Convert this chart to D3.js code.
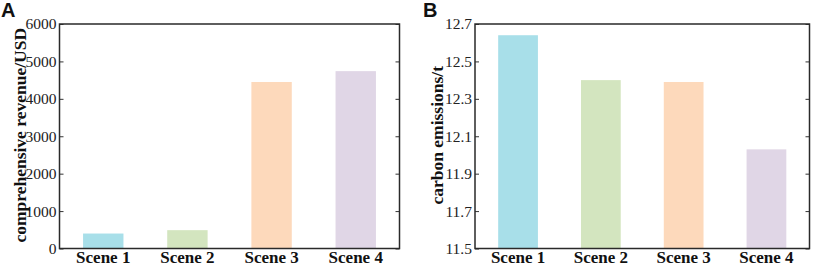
<!DOCTYPE html>
<html>
<head>
<meta charset="utf-8">
<script src="https://cdn.jsdelivr.net/npm/d3@7"></script>
<style>
  body { margin: 0; background: #fff; }
  svg { display: block; }
</style>
</head>
<body>
<div id="chart"></div>
<script>
// data
const scenes = ["Scene 1", "Scene 2", "Scene 3", "Scene 4"];
const revenue = [400, 490, 4450, 4740];
const emissions = [12.64, 12.40, 12.39, 12.03];
const revenueTicks = [0, 1000, 2000, 3000, 4000, 5000, 6000];
const emissionTicks = [11.5, 11.7, 11.9, 12.1, 12.3, 12.5, 12.7];
const barColors = ["#a8dfe9", "#d3e5bf", "#fdd9bb", "#e0d6e6"];

const serif = "'Liberation Serif', 'Times New Roman', serif";

const svg = d3.select("#chart").append("svg")
    .attr("width", 816)
    .attr("height", 266);

function drawPanel(opts) {
    let g = svg.append("g").attr("transform", `translate(${opts.left},${opts.top})`);
    let w = opts.width, h = opts.height;

    let x = d3.scaleBand()
        .domain(scenes)
        .range([0, w])
        .paddingInner(0.52)
        .paddingOuter(0.28);

    let y = d3.scaleLinear()
        .domain(opts.domain)
        .range([h, 0]);

    g.selectAll("rect.bar")
        .data(opts.values)
        .enter().append("rect")
        .attr("class", "bar")
        .attr("x", (d, i) => x(scenes[i]))
        .attr("width", x.bandwidth())
        .attr("y", d => y(d))
        .attr("height", d => h - y(d))
        .attr("fill", (d, i) => barColors[i]);

    // left axis, ticks pointing inward
    let yAxis = d3.axisLeft(y)
        .tickValues(opts.ticks)
        .tickFormat(opts.format)
        .tickSizeInner(-4)
        .tickSizeOuter(0)
        .tickPadding(3);
    let ya = g.append("g").call(yAxis);
    ya.select(".domain").remove();
    ya.selectAll("line").attr("stroke", "#333");
    ya.selectAll("text")
        .attr("x", -3)
        .attr("fill", "#222")
        .style("font-family", serif)
        .style("font-size", "15.5px");

    // mirrored ticks on the right side
    let yRight = d3.axisRight(y)
        .tickValues(opts.ticks)
        .tickSizeInner(-4)
        .tickSizeOuter(0)
        .tickFormat("");
    let yr = g.append("g").attr("transform", `translate(${w},0)`).call(yRight);
    yr.select(".domain").remove();
    yr.selectAll("line").attr("stroke", "#333");

    let xAxis = d3.axisBottom(x).tickSize(0).tickPadding(3);
    let xa = g.append("g").attr("transform", `translate(0,${h})`).call(xAxis);
    xa.select(".domain").remove();
    xa.selectAll("text")
        .attr("dy", "0.68em")
        .attr("fill", "#111")
        .style("font-family", serif)
        .style("font-size", "17px")
        .style("font-weight", "bold");

    // frame
    g.append("rect")
        .attr("width", w)
        .attr("height", h)
        .attr("fill", "none")
        .attr("stroke", "#2a2a2a")
        .attr("stroke-width", 1.5);

    g.append("text")
        .attr("transform", `translate(${opts.labelX},${h / 2 - 1}) rotate(-90)`)
        .attr("text-anchor", "middle")
        .attr("dy", "0.35em")
        .style("font-family", serif)
        .style("font-weight", "bold")
        .style("font-size", "17.5px")
        .attr("fill", "#111")
        .text(opts.title);

    svg.append("text")
        .attr("x", opts.letterX)
        .attr("y", 17)
        .style("font-family", "'Liberation Sans', Arial, sans-serif")
        .style("font-weight", "bold")
        .style("font-size", "20px")
        .attr("fill", "#111")
        .text(opts.letter);
}

drawPanel({
    left: 59.5, top: 24, width: 340, height: 224.5,
    values: revenue, domain: [0, 6000], ticks: revenueTicks,
    format: d3.format("d"),
    title: "comprehensive revenue/USD", labelX: -40,
    letter: "A", letterX: 1
});

drawPanel({
    left: 475, top: 24, width: 334.5, height: 224.5,
    values: emissions, domain: [11.5, 12.7], ticks: emissionTicks,
    format: d3.format(".1f"),
    title: "carbon emissions/t", labelX: -38,
    letter: "B", letterX: 423
});
</script>
</body>
</html>
